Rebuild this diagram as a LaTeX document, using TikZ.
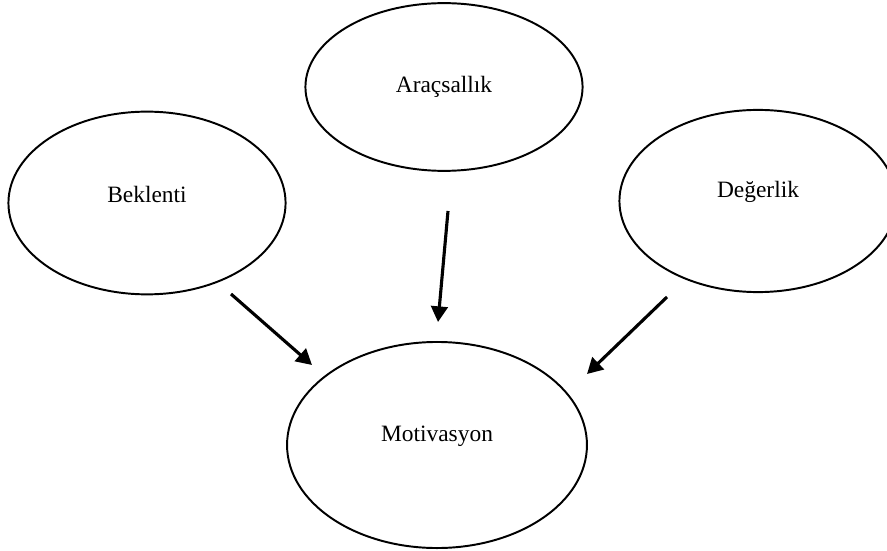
\documentclass[tikz,border=0pt]{standalone}
\usepackage{fontspec}
\setmainfont{Liberation Serif}
\usetikzlibrary{shapes.geometric,arrows.meta}

\tikzset{
  oval/.style={draw, ellipse, line width=1pt, inner sep=0pt},
  push/.style={line width=1.6pt, -{Triangle[length=8pt,width=8.5pt]}}
}

\begin{document}
\begin{tikzpicture}[x=0.018cm, y=-0.018cm, font=\fontsize{12}{14}\selectfont]
% Frame
\clip (0,0) rectangle (887,551);

% Factors (ellipses)
\node[oval, minimum width=4.99cm, minimum height=3.29cm,
      label={[yshift=0.15cm]center:Beklenti}] (bek) at (147,203) {};
\node[oval, minimum width=4.99cm, minimum height=3.02cm,
      label={center:Araçsallık}] (ara) at (444,87) {};
\node[oval, minimum width=4.99cm, minimum height=3.28cm,
      label={[yshift=0.16cm]center:Değerlik}] (deg) at (758,201) {};
\node[oval, minimum width=5.40cm, minimum height=3.71cm,
      label={[yshift=0.16cm]center:Motivasyon}] (mot) at (437,445) {};

% Arrow ends
\coordinate (bek-s) at (231,294);
\coordinate (bek-e) at (312,365);
\coordinate (ara-s) at (448,211);
\coordinate (ara-e) at (438,322);
\coordinate (deg-s) at (667,297);
\coordinate (deg-e) at (587,374);

% Arrows
\draw[push] (bek-s) -- (bek-e);
\draw[push] (ara-s) -- (ara-e);
\draw[push] (deg-s) -- (deg-e);

\end{tikzpicture}
\end{document}
